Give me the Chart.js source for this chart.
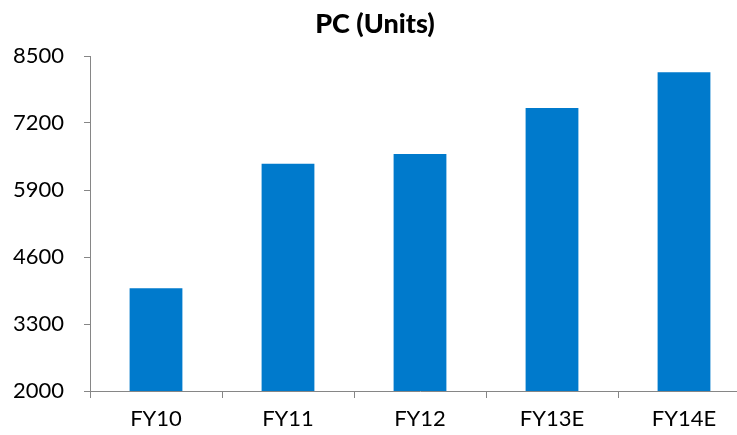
<!DOCTYPE html>
<html>
<head>
<meta charset="utf-8">
<script src="https://cdn.jsdelivr.net/npm/chart.js@4"></script>
<style>
  html, body { margin: 0; padding: 0; background: #fff; overflow: hidden; }
  #wrap { width: 750px; height: 435px; }
</style>
</head>
<body>
<div id="wrap"><canvas id="pcChart" width="750" height="435"></canvas></div>
<script>
// --- data ---
const categories = ['FY10', 'FY11', 'FY12', 'FY13E', 'FY14E'];
const pcUnits = [3995, 6410, 6600, 7490, 8185];
const yMin = 2000;
const yMax = 8500;
const yStep = 1300;

const axisGray = '#868686';
const barBlue = '#007ACC';
const fontFamily = 'Lato, "Open Sans", sans-serif';

const chart = new Chart(document.getElementById('pcChart'), {
    type: 'bar',
    data: {
        labels: categories,
        datasets: [
            { label: 'PC (Units)', data: pcUnits, backgroundColor: barBlue, borderWidth: 0,
              categoryPercentage: 1.0, barPercentage: 0.4 }
        ]
    },
    options: {
        responsive: false,
        animation: false,
        layout: { padding: 0 },
        plugins: {
            legend: { display: false },
            tooltip: { enabled: false },
            title: {
                display: true,
                text: 'PC (Units)',
                color: '#000',
                font: { family: fontFamily, size: 27, weight: '900' },
                padding: { top: 8, bottom: 15.6 }
            }
        },
        scales: {
            x: {
                border: { color: axisGray, width: 1 },
                grid: { display: true, drawOnChartArea: false, drawTicks: true, tickLength: 7, color: axisGray, offset: true },
                ticks: { color: '#000', font: { family: fontFamily, size: 22 }, padding: 8, maxRotation: 0 },
                afterFit: s => { s.height = 44; }
            },
            y: {
                min: yMin,
                max: yMax,
                border: { color: axisGray, width: 1 },
                grid: { display: true, drawOnChartArea: false, drawTicks: true, tickLength: 6, color: axisGray },
                ticks: { stepSize: yStep, color: '#000', font: { family: fontFamily, size: 22 }, padding: 20,
                         callback: v => String(v) },
                afterFit: s => { s.width = 90; }
            }
        }
    }
});
</script>
</body>
</html>
